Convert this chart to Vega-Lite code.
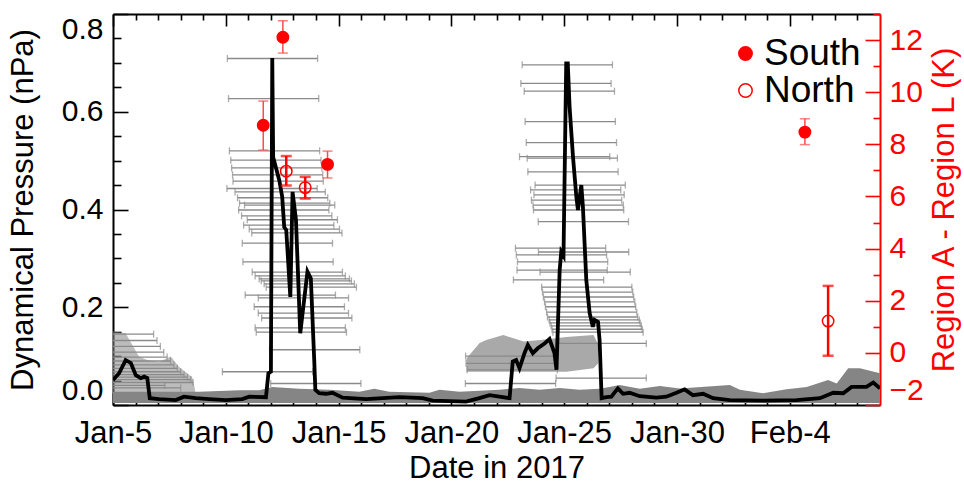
{
  "$schema": "https://vega.github.io/schema/vega-lite/v6.json",
  "width": 767,
  "height": 391,
  "autosize": "none",
  "padding": {"left": 113, "top": 14, "right": 84, "bottom": 78},
  "background": "white",
  "config": {
    "font": "Liberation Sans",
    "view": {"stroke": null},
    "axis": {"grid": false, "domainWidth": 2, "domainColor": "black", "tickColor": "black", "tickWidth": 1.6, "labelFont": "Liberation Sans", "titleFont": "Liberation Sans", "titleFontWeight": "normal", "labelColor": "black", "titleColor": "black", "labelOverlap": false}
  },
  "datasets": {
    "line": [
      {"t":5.0,"p":0.051},{"t":5.27,"p":0.065},{"t":5.56,"p":0.092},{"t":5.79,"p":0.086},{"t":6.01,"p":0.061},{"t":6.23,"p":0.055},{"t":6.38,"p":0.058},{"t":6.52,"p":0.055},{"t":6.63,"p":0.014},{"t":7.04,"p":0.012},{"t":7.78,"p":0.010},{"t":8.15,"p":0.017},{"t":8.67,"p":0.014},{"t":9.26,"p":0.012},{"t":10.0,"p":0.010},{"t":10.73,"p":0.012},{"t":11.04,"p":0.017},{"t":11.78,"p":0.016},{"t":11.89,"p":0.065},{"t":12.0,"p":0.068},{"t":12.06,"p":0.71},{"t":12.1,"p":0.507},{"t":12.37,"p":0.46},{"t":12.5,"p":0.426},{"t":12.59,"p":0.364},{"t":12.68,"p":0.358},{"t":12.86,"p":0.221},{"t":12.96,"p":0.436},{"t":13.11,"p":0.379},{"t":13.3,"p":0.147},{"t":13.62,"p":0.273},{"t":13.77,"p":0.259},{"t":13.92,"p":0.092},{"t":13.97,"p":0.031},{"t":14.14,"p":0.024},{"t":14.44,"p":0.023},{"t":14.73,"p":0.025},{"t":15.18,"p":0.015},{"t":16.22,"p":0.012},{"t":17.69,"p":0.016},{"t":18.73,"p":0.014},{"t":19.17,"p":0.009},{"t":20.65,"p":0.007},{"t":21.24,"p":0.014},{"t":21.69,"p":0.02},{"t":22.13,"p":0.017},{"t":22.58,"p":0.014},{"t":22.72,"p":0.089},{"t":22.87,"p":0.092},{"t":23.02,"p":0.075},{"t":23.24,"p":0.106},{"t":23.39,"p":0.123},{"t":23.61,"p":0.106},{"t":23.83,"p":0.116},{"t":24.13,"p":0.126},{"t":24.35,"p":0.135},{"t":24.57,"p":0.106},{"t":24.66,"p":0.072},{"t":24.8,"p":0.276},{"t":24.87,"p":0.313},{"t":24.97,"p":0.305},{"t":25.09,"p":0.699},{"t":25.16,"p":0.699},{"t":25.24,"p":0.61},{"t":25.39,"p":0.508},{"t":25.54,"p":0.426},{"t":25.61,"p":0.399},{"t":25.76,"p":0.45},{"t":25.83,"p":0.406},{"t":25.98,"p":0.256},{"t":26.13,"p":0.188},{"t":26.27,"p":0.16},{"t":26.35,"p":0.174},{"t":26.5,"p":0.17},{"t":26.57,"p":0.133},{"t":26.66,"p":0.014},{"t":26.87,"p":0.016},{"t":27.09,"p":0.017},{"t":27.38,"p":0.034},{"t":27.61,"p":0.023},{"t":27.9,"p":0.025},{"t":28.35,"p":0.018},{"t":29.09,"p":0.015},{"t":29.53,"p":0.017},{"t":29.98,"p":0.025},{"t":30.34,"p":0.032},{"t":30.71,"p":0.02},{"t":31.16,"p":0.023},{"t":31.6,"p":0.014},{"t":32.34,"p":0.01},{"t":33.82,"p":0.009},{"t":35.3,"p":0.01},{"t":36.34,"p":0.014},{"t":36.93,"p":0.025},{"t":37.37,"p":0.024},{"t":37.74,"p":0.037},{"t":38.4,"p":0.037},{"t":38.7,"p":0.046},{"t":39.0,"p":0.034}
    ],
    "gbars": [
      {"lo":10.07,"hi":14.07,"p":0.709},{"lo":10.12,"hi":14.12,"p":0.627},{"lo":10.16,"hi":14.16,"p":0.52},{"lo":10.22,"hi":14.22,"p":0.501},{"lo":10.26,"hi":14.26,"p":0.485},{"lo":10.3,"hi":14.3,"p":0.471},{"lo":10.32,"hi":14.32,"p":0.458},{"lo":10.05,"hi":14.05,"p":0.443},{"lo":10.41,"hi":14.41,"p":0.436},{"lo":10.52,"hi":14.52,"p":0.424},{"lo":10.61,"hi":14.61,"p":0.413},{"lo":10.83,"hi":14.83,"p":0.409},{"lo":10.57,"hi":14.57,"p":0.399},{"lo":10.7,"hi":14.7,"p":0.387},{"lo":10.95,"hi":14.95,"p":0.379},{"lo":10.79,"hi":14.79,"p":0.368},{"lo":11.04,"hi":15.04,"p":0.36},{"lo":11.15,"hi":15.15,"p":0.352},{"lo":10.73,"hi":14.73,"p":0.331},{"lo":10.76,"hi":14.76,"p":0.293},{"lo":11.17,"hi":15.17,"p":0.272},{"lo":11.3,"hi":15.3,"p":0.264},{"lo":11.48,"hi":15.48,"p":0.258},{"lo":11.57,"hi":15.57,"p":0.254},{"lo":11.7,"hi":15.7,"p":0.248},{"lo":11.79,"hi":15.79,"p":0.241},{"lo":10.86,"hi":14.86,"p":0.225},{"lo":11.44,"hi":15.44,"p":0.219},{"lo":11.26,"hi":15.26,"p":0.201},{"lo":11.44,"hi":15.44,"p":0.188},{"lo":11.59,"hi":15.59,"p":0.178},{"lo":11.3,"hi":15.3,"p":0.158},{"lo":11.35,"hi":15.35,"p":0.149},{"lo":11.94,"hi":15.94,"p":0.113},{"lo":9.85,"hi":13.85,"p":0.068},{"lo":11.99,"hi":15.99,"p":0.044},
      {"lo":23.14,"hi":27.14,"p":0.696},{"lo":23.08,"hi":27.08,"p":0.658},{"lo":23.23,"hi":27.23,"p":0.642},{"lo":23.27,"hi":27.27,"p":0.58},{"lo":23.32,"hi":27.32,"p":0.537},{"lo":23.02,"hi":27.02,"p":0.508},{"lo":23.36,"hi":27.36,"p":0.505},{"lo":23.39,"hi":27.39,"p":0.477},{"lo":23.71,"hi":27.71,"p":0.45},{"lo":23.51,"hi":27.51,"p":0.44},{"lo":23.66,"hi":27.66,"p":0.43},{"lo":23.55,"hi":27.55,"p":0.419},{"lo":23.62,"hi":27.62,"p":0.409},{"lo":23.64,"hi":27.64,"p":0.399},{"lo":23.85,"hi":27.85,"p":0.375},{"lo":22.84,"hi":26.84,"p":0.321},{"lo":23.86,"hi":27.86,"p":0.313},{"lo":22.88,"hi":26.88,"p":0.307},{"lo":22.93,"hi":26.93,"p":0.293},{"lo":22.91,"hi":26.91,"p":0.276},{"lo":23.93,"hi":27.93,"p":0.272},{"lo":22.75,"hi":26.75,"p":0.256},{"lo":24.0,"hi":28.0,"p":0.241},{"lo":24.04,"hi":28.04,"p":0.231},{"lo":24.08,"hi":28.08,"p":0.221},{"lo":24.13,"hi":28.13,"p":0.211},{"lo":24.17,"hi":28.17,"p":0.201},{"lo":24.22,"hi":28.22,"p":0.19},{"lo":24.26,"hi":28.26,"p":0.18},{"lo":24.33,"hi":28.33,"p":0.174},{"lo":24.37,"hi":28.37,"p":0.168},{"lo":24.42,"hi":28.42,"p":0.162},{"lo":24.46,"hi":28.46,"p":0.155},{"lo":24.5,"hi":28.5,"p":0.149},{"lo":24.64,"hi":28.64,"p":0.126},{"lo":24.64,"hi":28.64,"p":0.055},{"lo":20.62,"hi":24.62,"p":0.044},{"lo":20.63,"hi":24.63,"p":0.1},{"lo":20.65,"hi":24.65,"p":0.085},{"lo":20.7,"hi":24.7,"p":0.072},
      {"lo":2.8,"hi":6.8,"p":0.145},{"lo":2.95,"hi":6.95,"p":0.132},{"lo":3.1,"hi":7.1,"p":0.12},{"lo":3.25,"hi":7.25,"p":0.108},{"lo":3.4,"hi":7.4,"p":0.098},{"lo":3.55,"hi":7.55,"p":0.09},{"lo":3.7,"hi":7.7,"p":0.082},{"lo":3.85,"hi":7.85,"p":0.075},{"lo":4.0,"hi":8.0,"p":0.068},{"lo":4.15,"hi":8.15,"p":0.062},{"lo":4.3,"hi":8.3,"p":0.057},{"lo":4.45,"hi":8.45,"p":0.052},{"lo":4.55,"hi":8.55,"p":0.046},{"lo":3.3,"hi":7.3,"p":0.04},{"lo":4.0,"hi":8.0,"p":0.035}
    ],
    "band": [
      {"t":5.0,"lo":0.004,"hi":0.027},{"t":6.6,"lo":0.004,"hi":0.027},{"t":8.82,"lo":0.004,"hi":0.027},{"t":10.59,"lo":0.004,"hi":0.03},{"t":11.48,"lo":0.004,"hi":0.03},{"t":12.06,"lo":0.004,"hi":0.037},{"t":13.26,"lo":0.004,"hi":0.033},{"t":14.59,"lo":0.004,"hi":0.031},{"t":15.92,"lo":0.004,"hi":0.027},{"t":16.58,"lo":0.004,"hi":0.033},{"t":17.25,"lo":0.004,"hi":0.027},{"t":19.03,"lo":0.004,"hi":0.025},{"t":19.47,"lo":0.004,"hi":0.031},{"t":20.36,"lo":0.004,"hi":0.027},{"t":21.24,"lo":0.004,"hi":0.029},{"t":22.13,"lo":0.004,"hi":0.031},{"t":23.02,"lo":0.004,"hi":0.035},{"t":23.91,"lo":0.004,"hi":0.031},{"t":24.8,"lo":0.004,"hi":0.035},{"t":25.68,"lo":0.004,"hi":0.031},{"t":26.57,"lo":0.004,"hi":0.033},{"t":27.01,"lo":0.004,"hi":0.037},{"t":27.46,"lo":0.004,"hi":0.041},{"t":28.35,"lo":0.004,"hi":0.033},{"t":29.24,"lo":0.004,"hi":0.039},{"t":30.12,"lo":0.004,"hi":0.034},{"t":32.34,"lo":0.004,"hi":0.041},{"t":32.79,"lo":0.004,"hi":0.031},{"t":33.81,"lo":0.004,"hi":0.024},{"t":34.86,"lo":0.004,"hi":0.032},{"t":35.75,"lo":0.004,"hi":0.037},{"t":36.7,"lo":0.004,"hi":0.051},{"t":37.08,"lo":0.004,"hi":0.044},{"t":37.59,"lo":0.004,"hi":0.075},{"t":38.11,"lo":0.004,"hi":0.075},{"t":39.0,"lo":0.004,"hi":0.065}
    ],
    "start": [
      {"t":5.0,"lo":0.02,"hi":0.151},{"t":5.56,"lo":0.02,"hi":0.147},{"t":6.15,"lo":0.02,"hi":0.099},{"t":6.51,"lo":0.02,"hi":0.092},{"t":7.04,"lo":0.02,"hi":0.088},{"t":7.56,"lo":0.02,"hi":0.099},{"t":7.93,"lo":0.02,"hi":0.078},{"t":8.51,"lo":0.02,"hi":0.057},{"t":8.64,"lo":0.02,"hi":0.031}
    ],
    "block": [
      {"t":20.67,"lo":0.068,"hi":0.095},{"t":21.25,"lo":0.068,"hi":0.127},{"t":21.55,"lo":0.068,"hi":0.133},{"t":22.3,"lo":0.068,"hi":0.143},{"t":23.2,"lo":0.068,"hi":0.13},{"t":23.95,"lo":0.068,"hi":0.133},{"t":25.1,"lo":0.068,"hi":0.139},{"t":26.3,"lo":0.075,"hi":0.143},{"t":26.5,"lo":0.085,"hi":0.125}
    ],
    "red": [
      {"t":11.66,"v":8.73,"lo":7.78,"hi":9.66,"hem":"South"},
      {"t":12.53,"v":12.11,"lo":11.5,"hi":12.74,"hem":"South"},
      {"t":14.51,"v":7.23,"lo":6.71,"hi":7.74,"hem":"South"},
      {"t":35.67,"v":8.47,"lo":7.99,"hi":8.98,"hem":"South"},
      {"t":12.68,"v":6.97,"lo":6.42,"hi":7.55,"hem":"North"},
      {"t":13.52,"v":6.34,"lo":5.92,"hi":6.75,"hem":"North"},
      {"t":36.7,"v":1.22,"lo":-0.11,"hi":2.57,"hem":"North"}
    ]
  },
  "layer": [
    {
      "resolve": {"axis": {"x": "independent", "y": "independent"}},
      "layer": [
        {
          "data": {"name": "band"},
          "mark": {"type": "area", "color": "#858585", "clip": true},
          "encoding": {
            "x": {"field": "t", "type": "quantitative", "scale": {"domain": [5, 39], "nice": false, "zero": false},
              "axis": {"orient": "bottom", "values": [5,10,15,20,25,30,35],
                "labelExpr": "datum.value <= 31 ? 'Jan-' + datum.value : 'Feb-' + (datum.value - 31)",
                "labelFlush": false, "labelOverlap": false, "labelFontSize": 31, "labelPadding": 25, "tickSize": -12,
                "title": "Date in 2017", "titleFontSize": 31, "titlePadding": 5}},
            "y": {"field": "hi", "type": "quantitative", "scale": {"domain": [0, 0.8], "nice": false, "zero": false},
              "axis": {"orient": "left", "values": [0,0.2,0.4,0.6,0.8], "format": ".1f",
                "labelFlush": true, "labelOverlap": false, "labelFontSize": 30, "labelPadding": 25, "tickSize": -15,
                "title": "Dynamical Pressure (nPa)", "titleFontSize": 31, "titlePadding": 22}},
            "y2": {"field": "lo"}
          }
        },
        {
          "data": {"name": "start"},
          "mark": {"type": "area", "color": "#858585", "opacity": 0.55, "clip": true},
          "encoding": {
            "x": {"field": "t", "type": "quantitative",
              "axis": {"orient": "bottom", "values": [6,7,8,9,11,12,13,14,16,17,18,19,21,22,23,24,26,27,28,29,31,32,33,34,36,37,38],
                "labels": false, "title": null, "domain": false, "tickSize": -6}},
            "y": {"field": "hi", "type": "quantitative",
              "axis": {"orient": "left", "values": [0.05,0.1,0.15,0.25,0.3,0.35,0.45,0.5,0.55,0.65,0.7,0.75],
                "labels": false, "title": null, "domain": false, "tickSize": -8}},
            "y2": {"field": "lo"}
          }
        },
        {
          "data": {"name": "block"},
          "mark": {"type": "area", "color": "#858585", "opacity": 0.7, "clip": true},
          "encoding": {
            "x": {"field": "t", "type": "quantitative", "axis": null},
            "y": {"field": "hi", "type": "quantitative", "axis": null},
            "y2": {"field": "lo"}
          }
        },
        {
          "data": {"name": "gbars"},
          "mark": {"type": "rule", "color": "#8a8a8a", "strokeWidth": 1.3, "clip": true},
          "encoding": {
            "x": {"field": "lo", "type": "quantitative", "axis": null},
            "x2": {"field": "hi"},
            "y": {"field": "p", "type": "quantitative", "axis": null}
          }
        },
        {
          "data": {"name": "gbars"},
          "mark": {"type": "tick", "orient": "vertical", "color": "#8a8a8a", "size": 7, "thickness": 1.3, "clip": true},
          "encoding": {
            "x": {"field": "lo", "type": "quantitative", "axis": null},
            "y": {"field": "p", "type": "quantitative", "axis": null}
          }
        },
        {
          "data": {"name": "gbars"},
          "mark": {"type": "tick", "orient": "vertical", "color": "#8a8a8a", "size": 7, "thickness": 1.3, "clip": true},
          "encoding": {
            "x": {"field": "hi", "type": "quantitative", "axis": null},
            "y": {"field": "p", "type": "quantitative", "axis": null}
          }
        },
        {
          "data": {"name": "line"},
          "mark": {"type": "line", "color": "black", "strokeWidth": 3.8, "clip": true},
          "encoding": {
            "x": {"field": "t", "type": "quantitative", "axis": null},
            "y": {"field": "p", "type": "quantitative", "axis": null}
          }
        }
      ]
    },
    {
      "data": {"name": "red"},
      "resolve": {"axis": {"x": "independent", "y": "independent"}},
      "layer": [
        {
          "transform": [{"filter": "datum.hem === 'South'"}],
          "mark": {"type": "rule", "color": "#ff4a4a", "strokeWidth": 1.5},
          "encoding": {
            "x": {"field": "t", "type": "quantitative", "scale": {"domain": [5, 39], "nice": false, "zero": false},
              "axis": {"orient": "top", "values": [5,10,15,20,25,30,35], "labels": false, "title": null, "tickSize": -12}},
            "y": {"field": "lo", "type": "quantitative", "scale": {"domain": [-2, 13], "nice": false, "zero": false},
              "axis": {"orient": "right", "values": [-2,0,2,4,6,8,10,12],
                "labelFlush": true, "labelOverlap": false, "labelColor": "red", "tickColor": "red", "domainColor": "red",
                "labelFontSize": 30, "labelPadding": 24, "tickSize": -15,
                "title": "Region A - Region L (K)", "titleColor": "red", "titleFontSize": 31, "titleAngle": 270, "titleBaseline": "top", "titlePadding": 6}},
            "y2": {"field": "hi"}
          }
        },
        {
          "transform": [{"filter": "datum.hem === 'South'"}],
          "mark": {"type": "tick", "orient": "horizontal", "color": "#ff4a4a", "size": 10, "thickness": 1.5},
          "encoding": {
            "x": {"field": "t", "type": "quantitative",
              "axis": {"orient": "top", "values": [6,7,8,9,11,12,13,14,16,17,18,19,21,22,23,24,26,27,28,29,31,32,33,34,36,37,38],
                "labels": false, "title": null, "domain": false, "tickSize": -6}},
            "y": {"field": "lo", "type": "quantitative",
              "axis": {"orient": "right", "values": [-1,1,3,5,7,9,11,13],
                "labels": false, "title": null, "domain": false, "tickColor": "red", "tickSize": -7}}
          }
        },
        {
          "transform": [{"filter": "datum.hem === 'South'"}],
          "mark": {"type": "tick", "orient": "horizontal", "color": "#ff4a4a", "size": 10, "thickness": 1.5},
          "encoding": {
            "x": {"field": "t", "type": "quantitative", "axis": null},
            "y": {"field": "hi", "type": "quantitative", "axis": null}
          }
        },
        {
          "transform": [{"filter": "datum.hem === 'North'"}],
          "mark": {"type": "rule", "color": "#ff0000", "strokeWidth": 2.5},
          "encoding": {
            "x": {"field": "t", "type": "quantitative", "axis": null},
            "y": {"field": "lo", "type": "quantitative", "axis": null},
            "y2": {"field": "hi"}
          }
        },
        {
          "transform": [{"filter": "datum.hem === 'North'"}],
          "mark": {"type": "tick", "orient": "horizontal", "color": "#ff0000", "size": 11, "thickness": 2.5},
          "encoding": {
            "x": {"field": "t", "type": "quantitative", "axis": null},
            "y": {"field": "lo", "type": "quantitative", "axis": null}
          }
        },
        {
          "transform": [{"filter": "datum.hem === 'North'"}],
          "mark": {"type": "tick", "orient": "horizontal", "color": "#ff0000", "size": 11, "thickness": 2.5},
          "encoding": {
            "x": {"field": "t", "type": "quantitative", "axis": null},
            "y": {"field": "hi", "type": "quantitative", "axis": null}
          }
        },
        {
          "mark": {"type": "point", "shape": "circle", "size": 130, "stroke": "#ff0000", "strokeWidth": 1.5, "opacity": 1},
          "encoding": {
            "x": {"field": "t", "type": "quantitative", "axis": null},
            "y": {"field": "v", "type": "quantitative", "axis": null},
            "fill": {"field": "hem", "type": "nominal",
              "scale": {"domain": ["South", "North"], "range": ["#ff0000", "rgba(255,255,255,0)"]},
              "legend": {"orient": "none", "legendX": 614, "legendY": 21, "title": null, "padding": 0,
                "labelFontSize": 37, "labelFont": "Liberation Sans", "labelColor": "black", "labelOffset": 0,
                "symbolType": "circle", "symbolSize": 180, "symbolStrokeColor": "#ff0000", "symbolStrokeWidth": 1.5,
                "symbolOpacity": 1, "rowPadding": -9}}
          }
        }
      ]
    }
  ],
  "resolve": {"scale": {"y": "independent"}, "axis": {"x": "independent"}}
}
